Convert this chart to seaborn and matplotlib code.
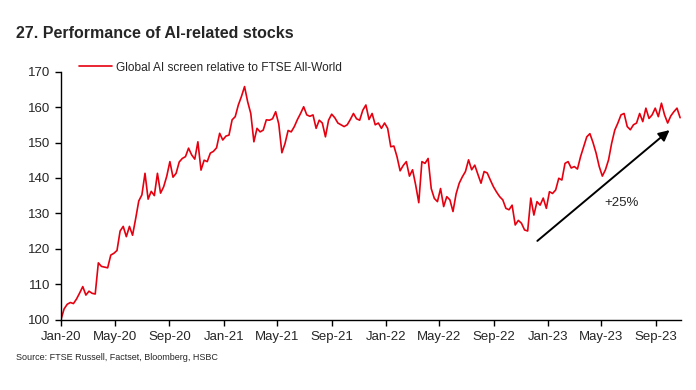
import numpy as np
import pandas as pd
import matplotlib
matplotlib.use('Agg')
import matplotlib.pyplot as plt
import matplotlib.dates as mdates
from matplotlib import font_manager
import seaborn as sns

# weekly readings, indexed to 100 on 1 Jan 2020
start_date = '2020-01-01'
ai_rel = [
    100.0, 103.0, 104.3, 104.8, 104.5, 105.8, 107.5, 109.3, 106.9, 108.0,
    107.4, 107.2, 116.0, 115.0, 114.8, 114.6, 118.2, 118.7, 119.5, 125.0,
    126.3, 123.4, 126.3, 123.8, 128.5, 133.5, 135.2, 141.3, 134.0, 136.2,
    135.0, 141.3, 135.7, 137.5, 140.5, 144.6, 140.2, 141.3, 144.5, 145.5,
    146.0, 148.4, 146.5, 145.3, 150.2, 142.2, 145.0, 144.6, 147.0, 147.5,
    148.5, 152.6, 150.7, 151.8, 152.1, 156.4, 157.3, 160.6, 163.0, 165.8,
    161.5, 158.2, 150.2, 154.0, 153.0, 153.5, 156.4, 156.3, 156.7, 158.7,
    155.2, 147.1, 149.7, 153.4, 153.0, 154.5, 156.5, 158.2, 160.1, 157.8,
    157.4, 157.8, 154.0, 156.3, 155.5, 151.6, 156.3, 158.0, 157.0, 155.5,
    155.0, 154.5, 155.0, 156.5, 158.2, 156.7, 156.3, 159.1, 160.6, 156.5,
    158.2, 155.0, 155.5, 154.0, 155.5, 154.0, 148.8, 149.0, 146.0, 142.0,
    143.5, 144.6, 140.5, 142.3, 138.0, 133.0, 144.6, 144.1, 145.5, 137.0,
    134.2, 133.3, 137.0, 131.9, 134.7, 133.8, 130.5, 135.5, 138.5, 140.3,
    141.8, 145.1, 142.3, 143.6, 141.0, 138.5, 141.8, 141.4, 139.4, 137.5,
    136.0, 134.7, 133.8, 131.4, 131.0, 132.3, 126.7, 128.0, 127.2, 125.3,
    125.0, 134.3, 129.5, 133.3, 132.3, 134.3, 131.4, 136.1, 135.6, 136.6,
    139.9, 139.4, 144.1, 144.6, 142.8, 143.2, 142.5, 146.0, 148.8, 151.6,
    152.5, 150.0, 147.0, 143.2, 140.5, 142.3, 145.1, 149.8, 153.5, 155.5,
    157.8, 158.2, 154.5, 153.6, 155.0, 155.5, 158.2, 155.9, 159.7, 156.8,
    157.8, 159.7, 157.3, 161.1, 157.8, 155.5, 157.5, 158.7, 159.7, 157.0,
]
series_label = 'Global AI screen relative to FTSE All-World'
tick_dates = pd.date_range('2020-01-01', '2023-09-01', freq='4MS')
y_ticks = [100, 110, 120, 130, 140, 150, 160, 170]

# arrow annotation: start / end (date, value) and label
arrow_start = ('2022-12-03', 121.7)
arrow_end = ('2023-10-06', 154.0)
arrow_text = ('2023-06-16', 132.9, '+25%')

df = pd.DataFrame({
    'date': pd.date_range(start_date, periods=len(ai_rel), freq='7D'),
    'value': ai_rel,
})

sns.set_style('ticks')
installed = {f.name for f in font_manager.fontManager.ttflist}
narrow = 'Liberation Sans Narrow' if 'Liberation Sans Narrow' in installed else 'Liberation Sans'
plt.rcParams['font.family'] = [narrow, 'DejaVu Sans']

fig = plt.figure(figsize=(6.96, 3.9), dpi=100)
ax = fig.add_axes([61 / 696, 1 - 319.5 / 390, (681 - 61) / 696, (319.5 - 71.7) / 390])

red = '#e6000f'
sns.lineplot(data=df, x='date', y='value', ax=ax, color=red, linewidth=1.2, label=series_label)

ax.set_xlim(pd.Timestamp('2020-01-01'), pd.Timestamp('2020-01-01') + pd.Timedelta(days=1395))
ax.set_ylim(100, 170)
ax.set_yticks(y_ticks)
ax.set_xticks(tick_dates)
ax.xaxis.set_major_formatter(mdates.DateFormatter('%b-%y'))
ax.set_xlabel('')
ax.set_ylabel('')
ax.tick_params(axis='both', labelsize=9.5, length=4, width=1, color='black', direction='out')
ax.tick_params(axis='x', pad=4)
for s in ['top', 'right']:
    ax.spines[s].set_visible(False)
for s in ['left', 'bottom']:
    ax.spines[s].set_color('black')
    ax.spines[s].set_linewidth(1)

leg = ax.legend(loc='upper left', bbox_to_anchor=(0.022, 1.06), frameon=False,
                fontsize=8.6, handlelength=2.7, handletextpad=0.4, borderaxespad=0)

ax.annotate('', xy=(pd.Timestamp(arrow_end[0]), arrow_end[1]),
            xytext=(pd.Timestamp(arrow_start[0]), arrow_start[1]),
            arrowprops=dict(arrowstyle='-|>', color='black', lw=1.4, mutation_scale=16))
ax.text(pd.Timestamp(arrow_text[0]), arrow_text[1], arrow_text[2],
        ha='center', va='center', fontsize=9.5)

fig.text(16 / 696, 1 - 34 / 390, '27. Performance of AI-related stocks',
         fontsize=11.5, fontweight='bold', ha='left', va='center',
         family=['Liberation Sans', 'DejaVu Sans'])
fig.text(16 / 696, 1 - 357 / 390, 'Source: FTSE Russell, Factset, Bloomberg, HSBC',
         fontsize=6.5, ha='left', va='center')

fig.savefig('out.png', dpi=100)
